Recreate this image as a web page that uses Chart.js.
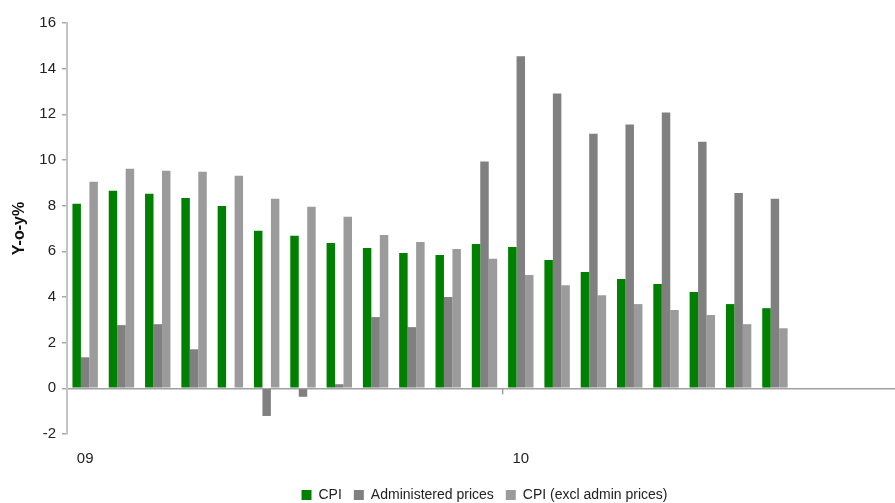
<!DOCTYPE html>
<html>
<head>
<meta charset="utf-8">
<script src="https://cdn.jsdelivr.net/npm/chart.js@4/dist/chart.umd.min.js"></script>
<style>
  html, body { margin: 0; padding: 0; background: #ffffff; overflow: hidden; }
  #wrap { position: relative; width: 910px; height: 512px; }
</style>
</head>
<body>
<div id="wrap"><canvas id="chart"></canvas></div>
<script>
// Monthly categories, Jan 2009 - Nov 2010
const categories = [
  'Jan 09','Feb 09','Mar 09','Apr 09','May 09','Jun 09','Jul 09','Aug 09','Sep 09','Oct 09','Nov 09','Dec 09',
  'Jan 10','Feb 10','Mar 10','Apr 10','May 10','Jun 10','Jul 10','Aug 10','Sep 10','Oct 10','Nov 10'
];

// Year-on-year inflation, %
const cpi = [8.08, 8.65, 8.52, 8.34, 7.99, 6.90, 6.68, 6.37, 6.15, 5.93, 5.84, 6.32,
             6.19, 5.62, 5.09, 4.79, 4.57, 4.22, 3.69, 3.51, null, null, null];
const administeredPrices = [1.36, 2.77, 2.81, 1.71, 0.0, -1.21, -0.37, 0.18, 3.12, 2.68, 4.00, 9.93,
             14.54, 12.91, 11.15, 11.55, 12.08, 10.80, 8.56, 8.30, null, null, null];
const cpiExclAdmin = [9.05, 9.62, 9.53, 9.49, 9.31, 8.30, 7.95, 7.51, 6.72, 6.41, 6.10, 5.67,
             4.96, 4.52, 4.08, 3.69, 3.43, 3.21, 2.81, 2.63, null, null, null];

// Year labels shown under the first month of each year
const yearTicks = { 'Jan 09': '09', 'Jan 10': '10' };

const FONT = "'Liberation Sans', Arial, sans-serif";

// Zero line tick marks at the boundary between years
const yearBoundaryTicks = {
  id: 'yearBoundaryTicks',
  afterDatasetsDraw(chart) {
    const x = chart.scales.x, y = chart.scales.y;
    const y0 = y.getPixelForValue(0);
    const ctx = chart.ctx;
    ctx.save();
    ctx.strokeStyle = '#a0a0a0';
    ctx.lineWidth = 1.5;
    categories.forEach((c, i) => {
      if (i > 0 && yearTicks[c]) {
        const px = (x.getPixelForValue(i - 1) + x.getPixelForValue(i)) / 2;
        ctx.beginPath();
        ctx.moveTo(px, y0);
        ctx.lineTo(px, y0 + 6);
        ctx.stroke();
      }
    });
    ctx.restore();
  }
};

new Chart(document.getElementById('chart'), {
  type: 'bar',
  data: {
    labels: categories,
    datasets: [
      { label: 'CPI', data: cpi, backgroundColor: '#008000' },
      { label: 'Administered prices', data: administeredPrices, backgroundColor: '#808080' },
      { label: 'CPI (excl admin prices)', data: cpiExclAdmin, backgroundColor: '#9b9b9b' }
    ]
  },
  options: {
    responsive: true,
    maintainAspectRatio: false,
    animation: false,
    layout: { padding: { top: 23, right: 8, bottom: 0, left: 0 } },
    datasets: { bar: { categoryPercentage: 0.7, barPercentage: 1.0, borderWidth: 0 } },
    plugins: {
      tooltip: { enabled: false },
      legend: {
        position: 'bottom',
        fullSize: false,
        labels: {
          font: { family: FONT, size: 14 },
          color: '#222222',
          boxWidth: 10,
          boxHeight: 10,
          padding: 12
        }
      }
    },
    scales: {
      x: {
        grid: { display: false },
        border: { display: false },
        ticks: {
          autoSkip: false,
          maxRotation: 0,
          padding: 8,
          font: { family: FONT, size: 15 },
          color: '#222222',
          callback: (v, i) => yearTicks[categories[i]] || ''
        },
        afterFit: s => { s.height = 42; }
      },
      y: {
        min: -2,
        max: 16,
        ticks: {
          stepSize: 2,
          padding: 6,
          font: { family: FONT, size: 15 },
          color: '#222222'
        },
        grid: {
          color: c => (c.tick && c.tick.value === 0) ? '#a0a0a0' : 'rgba(0,0,0,0)',
          tickColor: '#a8a8a8',
          tickLength: 5,
          lineWidth: 1.5
        },
        border: { color: '#c4c4c4', width: 2 },
        title: {
          display: true,
          text: 'Y-o-y%',
          font: { family: FONT, size: 16, weight: 'bold' },
          color: '#111111',
          padding: { top: 10, bottom: 0 }
        },
        afterFit: s => { s.width = 67; }
      }
    }
  },
  plugins: [yearBoundaryTicks]
});
</script>
</body>
</html>
